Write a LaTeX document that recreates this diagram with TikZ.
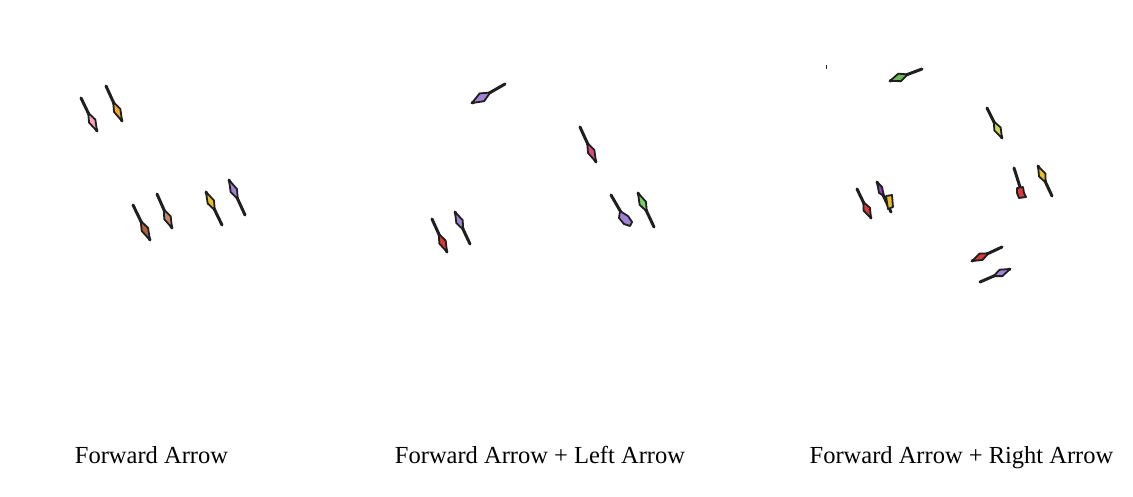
\documentclass[tikz,border=0pt]{standalone}
\usepackage{fontspec}
\setmainfont{Liberation Serif}
\usepackage{xcolor}
\usepackage{tikz}
\usetikzlibrary{calc}
\definecolor{markpink}{RGB}{244, 166, 184}
\definecolor{markorange}{RGB}{245, 166, 35}
\definecolor{markbrown}{RGB}{178, 98, 56}
\definecolor{marktan}{RGB}{200, 136, 98}
\definecolor{markyellow}{RGB}{232, 190, 40}
\definecolor{marklilac}{RGB}{160, 130, 214}
\definecolor{markrose}{RGB}{226, 74, 118}
\definecolor{markred}{RGB}{215, 58, 58}
\definecolor{markmint}{RGB}{124, 206, 104}
\definecolor{markgreen}{RGB}{108, 184, 88}
\definecolor{marklime}{RGB}{206, 216, 74}
\definecolor{markviolet}{RGB}{150, 60, 200}
\tikzset{
  shaft/.style={line width=3pt, black!88, line cap=round},
  head/.style={draw=black!88, line width=1.8pt, line join=round},
  caption/.style={font=\fontsize{24.5}{28}\selectfont, anchor=base, inner sep=0pt}
}
\newcommand{\markarrow}[4]{%
  \draw[shaft] (#1) -- (#2);
  \coordinate (hb) at ($(#1)!0.45!(#2)$);
  \coordinate (hw) at ($(#1)!0.7!(#2)$);
  \filldraw[head, fill=#3] (hb) -- ($(hw)!#4!90:(#2)$) -- (#2) -- ($(hw)!#4!-90:(#2)$) -- cycle;
}

\begin{document}
\begin{tikzpicture}[x=1pt, y=-1pt]
  \useasboundingbox[fill=white] (0,0) rectangle (1133,496);

  % forward arrow
  \markarrow{81,98}{97,131}{markpink}{3.5pt}
  \markarrow{106,86}{122,121}{markorange}{3.5pt}
  \markarrow{133,205}{150,240}{markbrown}{3.5pt}
  \markarrow{157,194}{172,228}{marktan}{3.5pt}
  \markarrow{222,225}{206,192}{markyellow}{3.5pt}
  \markarrow{245,215}{229,180}{marklilac}{3.5pt}

  % forward arrow + left arrow
  \markarrow{505,84}{472,103}{marklilac}{4.5pt}
  \markarrow{580,127}{596,162}{markrose}{3.5pt}
  \markarrow{432,219}{447,252}{markred}{3.5pt}
  \markarrow{470,244}{455,212}{marklilac}{3.5pt}
  \draw[shaft] (611,195) -- (622,214);
  \filldraw[head, fill=marklilac] (620,211) -- (628,216) -- (632,222) -- (630,226) -- (624,224) -- (619,218) -- cycle;
  \markarrow{654,227}{638,193}{markmint}{3.5pt}

  % forward arrow + right arrow
  \draw[black!85, line width=1pt] (826.5,65) -- (826.5,69);
  \markarrow{922,69}{890,81}{markgreen}{4pt}
  \markarrow{987,108}{1002,138}{marklime}{3.5pt}
  \markarrow{857,189}{871,218}{markred}{3.5pt}
  \draw[shaft] (877,182) -- (891,212);
  \filldraw[head, fill=markviolet] (877,182) -- (882,187) -- (884,196) -- (879,193) -- cycle;
  \filldraw[head, fill=markyellow] (886,196) -- (892,195) -- (893,207) -- (888,209) -- cycle;
  \draw[shaft] (1014,168) -- (1020,187);
  \filldraw[head, fill=markred] (1017,188) -- (1023,187) -- (1024,193) -- (1026,197) -- (1019,198) -- (1017,193) -- cycle;
  \markarrow{1052,196}{1038,166}{markyellow}{3.5pt}
  \markarrow{1002,247}{972,261}{markred}{3.5pt}
  \markarrow{980,282}{1010,269}{marklilac}{3.5pt}

  \node[caption] (capfwd) at (151.5,463) {Forward Arrow};
  \node[caption] (capleft) at (540,463) {Forward Arrow + Left Arrow};
  \node[caption] (capright) at (961.5,463) {Forward Arrow + Right Arrow};
\end{tikzpicture}
\end{document}
